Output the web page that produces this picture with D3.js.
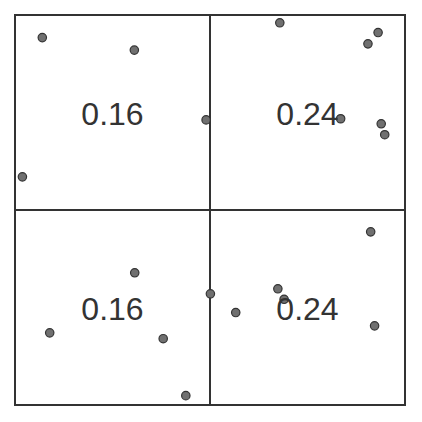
<!DOCTYPE html>
<html><head><meta charset="utf-8">
<script src="https://cdn.jsdelivr.net/npm/d3@7"></script>
<style>html,body{margin:0;padding:0;background:#fff;}svg{display:block;}</style>
</head><body>
<svg id="c" width="422" height="422"></svg>
<script>
const xs = [0.070,0.306,0.490,0.019,0.679,0.931,0.905,0.835,0.939,0.948,0.307,0.501,0.089,0.380,0.438,0.912,0.674,0.690,0.566,0.922];
const ys = [0.942,0.910,0.731,0.585,0.980,0.955,0.926,0.734,0.721,0.693,0.339,0.285,0.185,0.170,0.024,0.444,0.298,0.271,0.237,0.203];
const quadX = [0.25,0.75,0.25,0.75];
const quadY = [0.75,0.75,0.25,0.25];
const quadLabels = ["0.16","0.24","0.16","0.24"];
const divider = 0.5;

const svg = d3.select("#c");
const x = d3.scaleLinear().domain([0,1]).range([15,405]);
const y = d3.scaleLinear().domain([0,1]).range([405,15]);

svg.append("line").attr("x1",x(divider)).attr("x2",x(divider)).attr("y1",y(0)).attr("y2",y(1))
  .attr("stroke","#333").attr("stroke-width",2);
svg.append("line").attr("x1",x(0)).attr("x2",x(1)).attr("y1",y(divider)).attr("y2",y(divider))
  .attr("stroke","#333").attr("stroke-width",2);
svg.append("rect").attr("x",x(0)).attr("y",y(1)).attr("width",x(1)-x(0)).attr("height",y(0)-y(1))
  .attr("fill","none").attr("stroke","#333").attr("stroke-width",2);

svg.selectAll("circle.pt").data(xs.map((v,i)=>[v,ys[i]])).join("circle")
  .attr("class","pt").attr("cx",d=>x(d[0])).attr("cy",d=>y(d[1])).attr("r",4.2)
  .attr("fill","#707070").attr("stroke","#333").attr("stroke-width",1.2);

svg.selectAll("text.q").data(quadLabels).join("text")
  .attr("class","q")
  .attr("x",(d,i)=>x(quadX[i])).attr("y",(d,i)=>y(quadY[i])+12.5)
  .attr("text-anchor","middle")
  .attr("font-family","'Liberation Sans', Arial, sans-serif")
  .attr("font-size",32)
  .attr("fill","#333")
  .text(d=>d);
</script>
</body></html>
